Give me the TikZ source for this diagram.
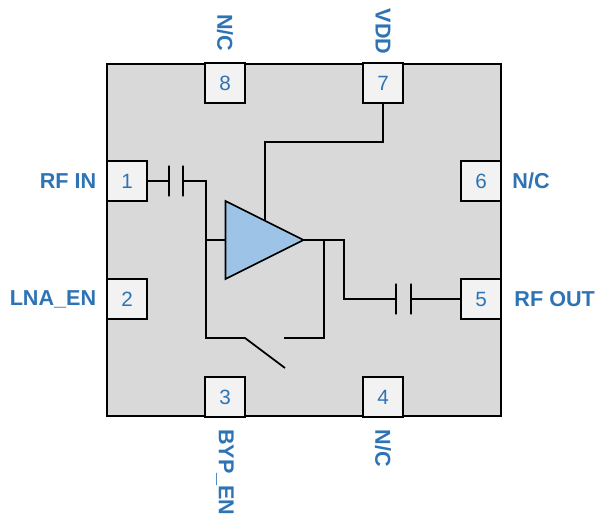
\documentclass[tikz,border=0pt]{standalone}
\usepackage{fontspec}
\setmainfont{Liberation Sans}
\usepackage{tikz}
\usetikzlibrary{positioning, shapes.geometric}
\definecolor{pinblue}{HTML}{2E74B5}
\definecolor{ampblue}{HTML}{9DC3E6}
\tikzset{
  package/.style={rectangle, draw, line width=1.6pt, fill=black!15, minimum width=295.5pt, minimum height=264pt, inner sep=0pt},
  pad/.style={rectangle, draw, line width=1.6pt, fill=black!5, minimum width=29.6pt, minimum height=29.6pt, inner sep=0pt, text=pinblue, font=\fontsize{15.5}{15.5}\selectfont},
  padname/.style={inner sep=0pt, outer sep=0pt, text=pinblue, font=\fontsize{16.2}{16.2}\selectfont\bfseries},
  plate/.style={draw, line width=1.5pt, minimum width=0pt, minimum height=23pt, inner sep=0pt, outer sep=0pt},
  wire/.style={line width=1.3pt},
  thickwire/.style={line width=2.1pt},
}

\begin{document}
\begin{tikzpicture}[x=0.75pt, y=-0.75pt]
  \useasboundingbox (0,0) rectangle (595,514);

  \node[package] (chip) at (304,240) {};

  % pads round the package
  \node[pad] (pin1) at (127,181) {1};
  \node[pad] (pin2) at (127,299) {2};
  \node[pad] (pin3) at (225,397) {3};
  \node[pad] (pin4) at (383,397) {4};
  \node[pad] (pin5) at (481,299) {5};
  \node[pad] (pin6) at (481,181) {6};
  \node[pad] (pin7) at (383,83) {7};
  \node[pad] (pin8) at (225,83) {8};

  \node[padname, left=7.5pt of pin1] (rfin) {RF IN};
  \node[padname, left=7.5pt of pin2] (lnaen) {LNA\_EN};
  \node[padname, rotate=-90, below=8.5pt of pin3.south, anchor=west] (bypen) {BYP\_EN};
  \node[padname, rotate=-90, below=9pt of pin4.south, anchor=west] (nc4) {N/C};
  \node[padname, right=9.5pt of pin5] (rfout) {RF OUT};
  \node[padname, right=8pt of pin6] (nc6) {N/C};
  \node[padname, rotate=-90, above=6pt of pin7.north, anchor=east] (vdd) {VDD};
  \node[padname, rotate=-90, above=8pt of pin8.north, anchor=east] (nc8) {N/C};

  % capacitors
  \node[plate] (c1a) at (168.5,181) {};
  \node[plate] (c1b) at (183,181) {};
  \node[plate] (c2a) at (395.5,299) {};
  \node[plate] (c2b) at (410.5,299) {};

  % wiring points
  \coordinate (inbend) at (206,181);
  \coordinate (injoin) at (206,240);
  \coordinate (swleft) at (206,338);
  \coordinate (swhinge) at (245,338);
  \coordinate (swtip) at (285,368);
  \coordinate (swright) at (284,338);
  \coordinate (outjoin) at (324,240);
  \coordinate (swcorner) at (324,338);
  \coordinate (outbend) at (344,240);
  \coordinate (outlow) at (344,299);
  \coordinate (vddbend) at (383,142);
  \coordinate (vddleft) at (265,142);
  \coordinate (vddamp) at (265,220);

  \draw[wire] (pin1.east) -- (c1a);
  \draw[wire] (c1b) -- (inbend) -- (swleft) -- (swhinge) -- (swtip);
  \draw[wire] (swright) -- (swcorner) -- (outjoin);
  \draw[wire] (outjoin) -- (outbend) -- (outlow) -- (c2a);
  \draw[wire] (c2b) -- (pin5.west);
  \draw[wire] (pin7.south) -- (vddbend) -- (vddleft) -- (vddamp);

  \node[isosceles triangle, isosceles triangle stretches, draw, line width=1.3pt, fill=ampblue, minimum width=58.5pt, minimum height=58.5pt, inner sep=0pt, outer sep=0pt, anchor=apex] (amp) at (303.5,240) {};

  \draw[thickwire] (injoin) -- (amp.west |- injoin);
  \draw[thickwire] (amp.apex) -- (outjoin);
\end{tikzpicture}
\end{document}
